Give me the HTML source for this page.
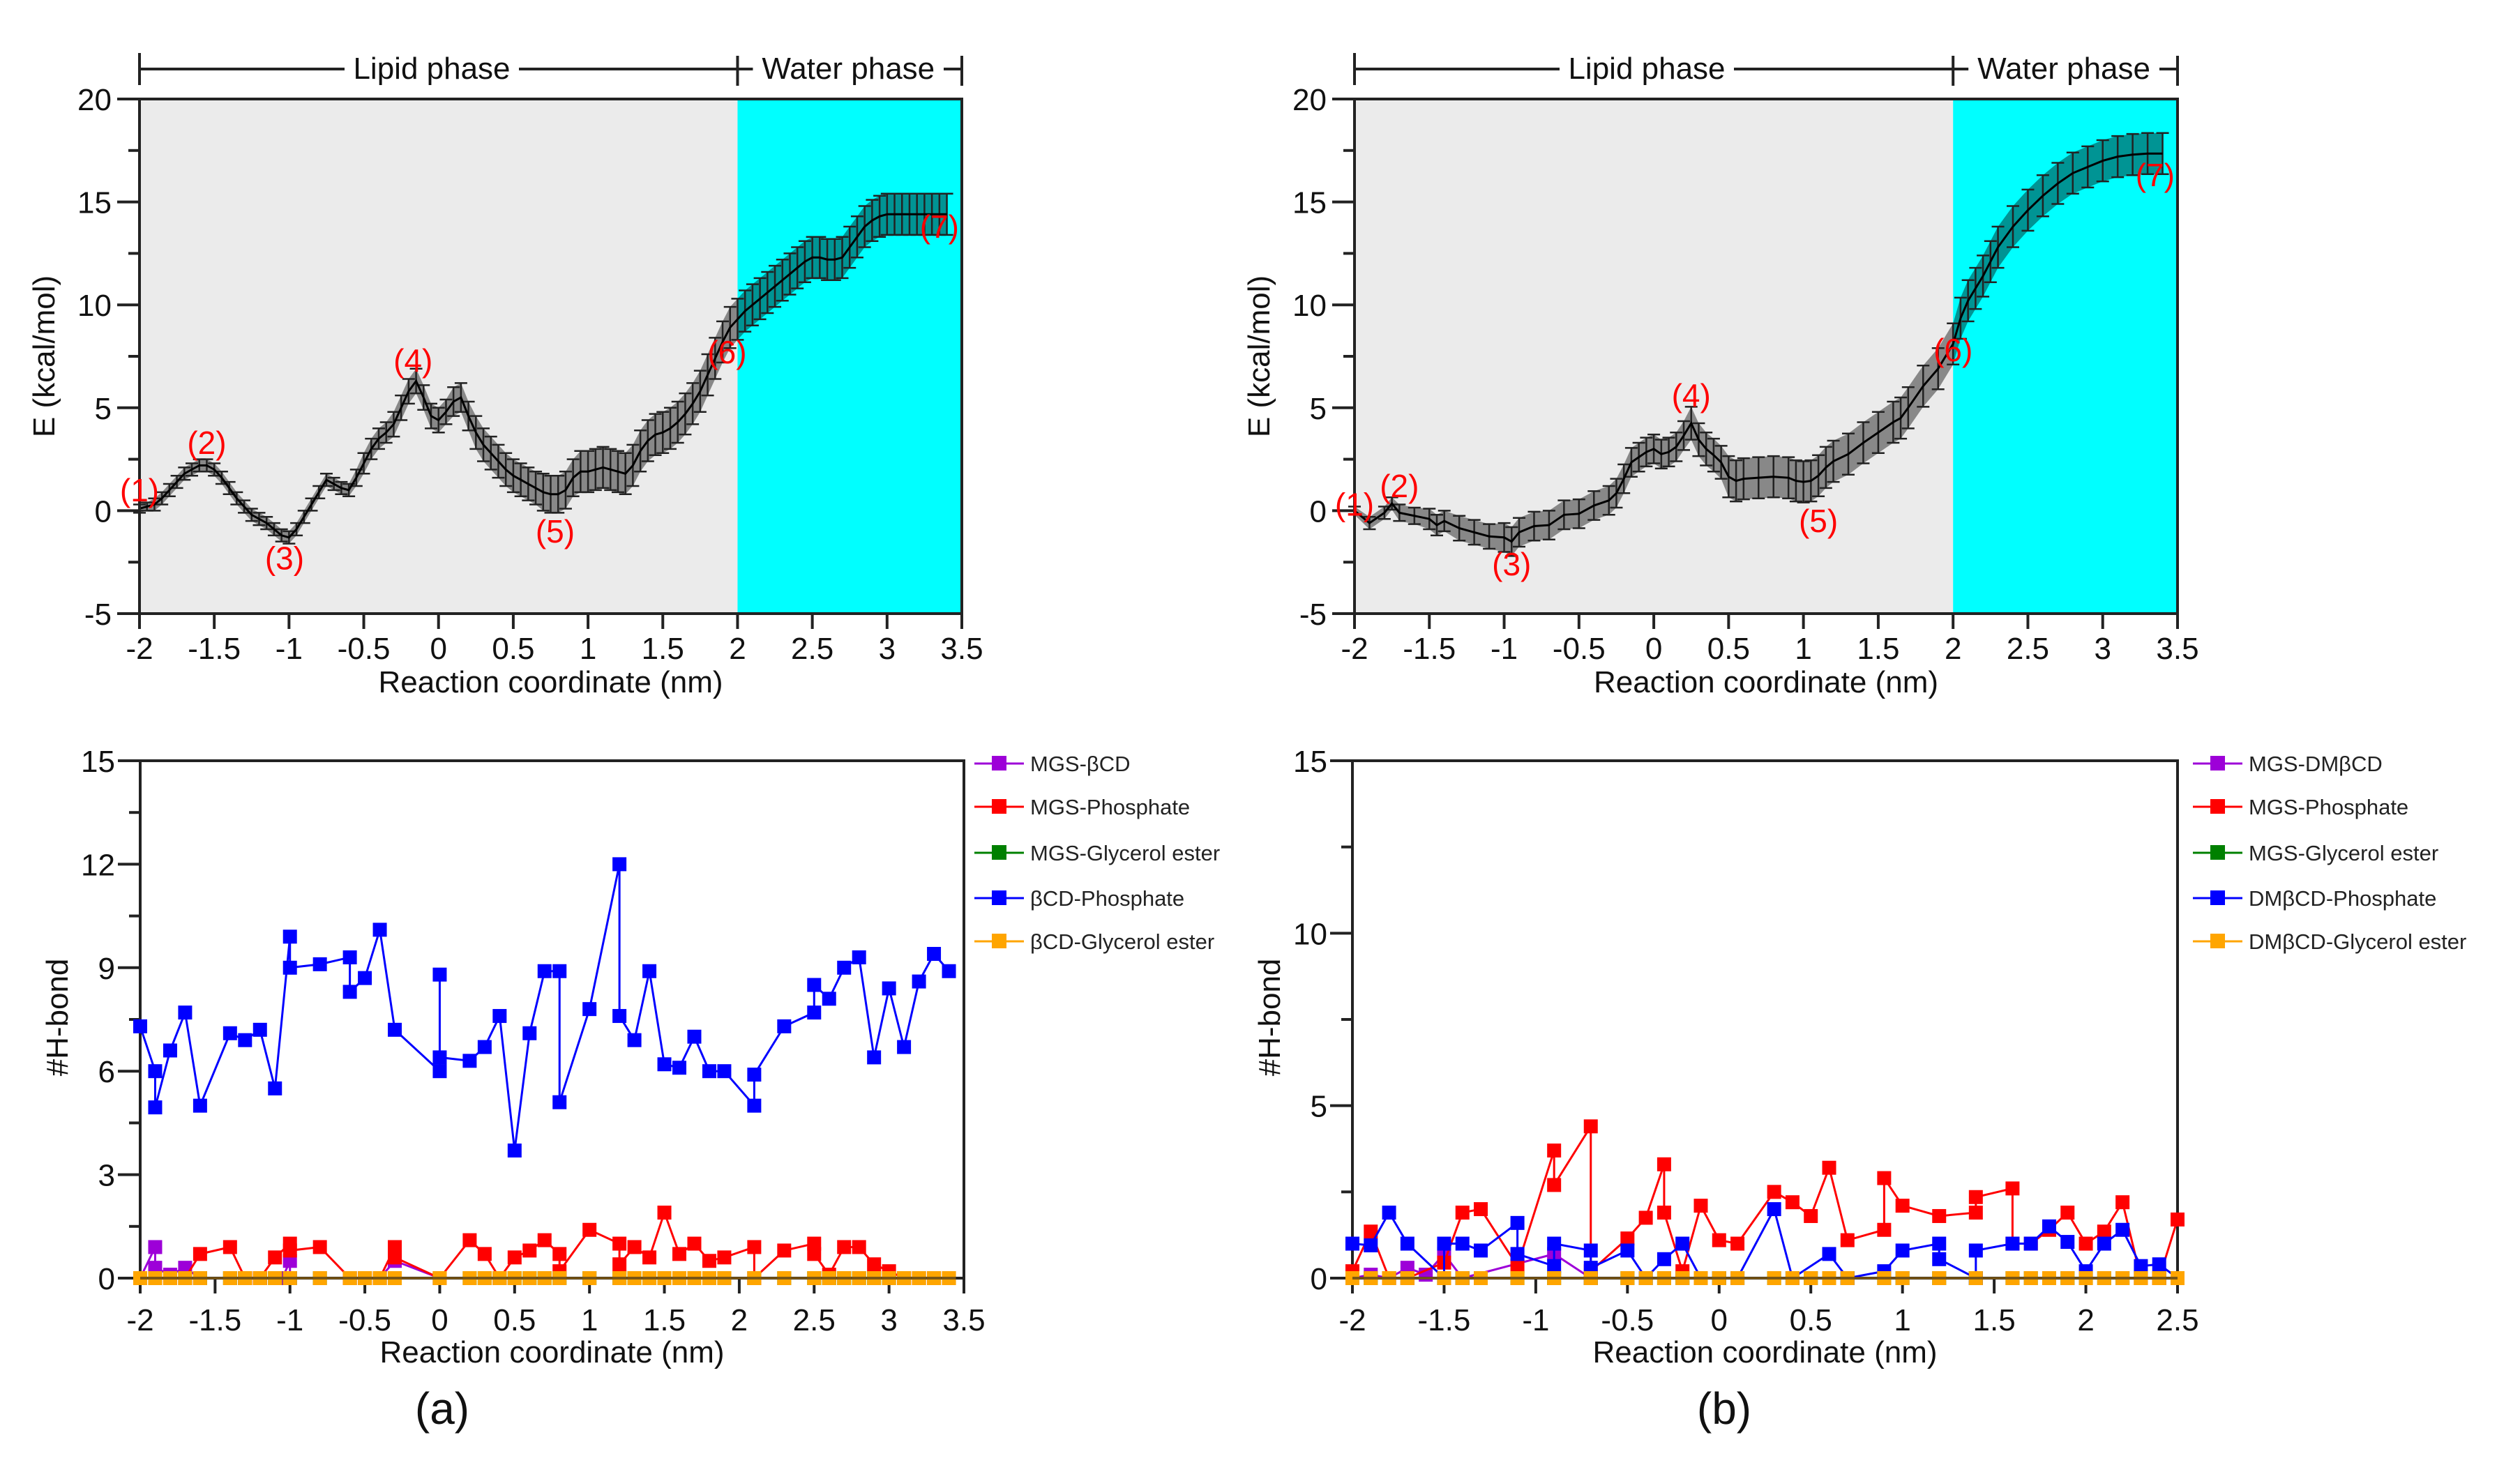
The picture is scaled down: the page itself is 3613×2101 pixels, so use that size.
<!DOCTYPE html>
<html><head><meta charset="utf-8"><style>
html,body{margin:0;padding:0;background:#fff;}
svg{display:block;font-family:"Liberation Sans",Arial,sans-serif;}
</style></head><body>
<svg id="fig" width="3613" height="2101" viewBox="0 0 3613 2101" xmlns="http://www.w3.org/2000/svg"></svg>
<script>
// ---------- Data: energy profile (a) ----------
const eA_x = [-2,-1.95,-1.9,-1.85,-1.8,-1.75,-1.7,-1.65,-1.6,-1.55,-1.5,-1.45,-1.4,-1.35,-1.3,-1.25,-1.2,-1.15,-1.1,-1.05,-1,-0.95,-0.9,-0.85,-0.8,-0.75,-0.7,-0.65,-0.6,-0.55,-0.5,-0.45,-0.4,-0.35,-0.3,-0.25,-0.2,-0.15,-0.1,-0.05,0,0.05,0.1,0.15,0.2,0.25,0.3,0.35,0.4,0.45,0.5,0.55,0.6,0.65,0.7,0.75,0.8,0.85,0.9,0.95,1,1.05,1.1,1.15,1.2,1.25,1.3,1.35,1.4,1.45,1.5,1.55,1.6,1.65,1.7,1.75,1.8,1.85,1.9,1.95,2,2.05,2.1,2.15,2.2,2.25,2.3,2.35,2.4,2.45,2.5,2.55,2.6,2.65,2.7,2.75,2.8,2.85,2.9,2.95,3,3.05,3.1,3.15,3.2,3.25,3.3,3.35,3.4];
const eA_y = [0.1,0.2,0.3,0.6,1.0,1.4,1.8,2.0,2.2,2.2,2.0,1.6,1.1,0.6,0.2,-0.2,-0.4,-0.6,-0.9,-1.2,-1.3,-0.9,-0.3,0.3,0.9,1.5,1.3,1.1,1.0,1.6,2.3,3.0,3.5,3.8,4.2,5.0,5.8,6.3,5.5,4.6,4.4,4.8,5.3,5.5,4.6,3.8,3.2,2.8,2.4,2.0,1.7,1.5,1.3,1.1,0.9,0.8,0.8,1.0,1.6,1.9,1.9,2.0,2.1,2.0,1.9,1.8,2.2,2.9,3.4,3.7,3.8,4.0,4.3,4.7,5.2,5.8,6.6,7.4,8.2,8.9,9.3,9.7,10.0,10.3,10.6,10.9,11.2,11.5,11.8,12.1,12.3,12.3,12.2,12.2,12.3,12.8,13.3,13.8,14.1,14.3,14.4,14.4,14.4,14.4,14.4,14.4,14.4,14.4,14.4];
const eA_err = [0.2,0.2,0.3,0.3,0.3,0.3,0.3,0.3,0.3,0.3,0.3,0.3,0.3,0.3,0.3,0.3,0.3,0.3,0.3,0.3,0.3,0.3,0.3,0.3,0.3,0.3,0.3,0.3,0.3,0.4,0.5,0.5,0.5,0.5,0.6,0.6,0.6,0.6,0.6,0.6,0.6,0.6,0.7,0.7,0.7,0.8,0.8,0.8,0.8,0.8,0.8,0.8,0.8,0.8,0.9,0.9,0.9,0.9,0.9,1.0,1.0,1.0,1.0,1.0,1.0,1.0,1.0,1.0,1.0,1.0,1.0,1.0,1.0,1.0,1.0,1.0,1.0,1.0,1.0,1.0,1.0,1.0,1.0,1.0,1.0,1.0,1.0,1.0,1.0,1.0,1.0,1.0,1.0,1.0,1.0,1.0,1.0,1.0,1.0,1.0,1.0,1.0,1.0,1.0,1.0,1.0,1.0,1.0,1.0];
// ---------- Data: energy profile (b) ----------
const eB_x = [-2,-1.9,-1.8,-1.75,-1.7,-1.6,-1.5,-1.45,-1.4,-1.3,-1.2,-1.1,-1,-0.95,-0.9,-0.8,-0.7,-0.6,-0.5,-0.4,-0.3,-0.25,-0.2,-0.15,-0.1,-0.05,0,0.05,0.1,0.15,0.2,0.25,0.3,0.35,0.4,0.45,0.5,0.55,0.6,0.7,0.8,0.9,0.95,1,1.05,1.1,1.15,1.2,1.3,1.4,1.5,1.6,1.65,1.7,1.8,1.9,2,2.05,2.1,2.15,2.2,2.25,2.3,2.4,2.5,2.6,2.7,2.8,2.9,3,3.1,3.2,3.3,3.4];
const eB_y = [0,-0.6,-0.1,0.35,-0.1,-0.25,-0.4,-0.7,-0.5,-0.85,-1.05,-1.25,-1.3,-1.5,-1.05,-0.75,-0.7,-0.2,-0.15,0.25,0.5,0.85,1.55,2.35,2.6,2.85,3.0,2.75,2.85,3.1,3.65,4.25,3.45,3.0,2.7,2.35,1.65,1.45,1.55,1.6,1.65,1.6,1.45,1.4,1.45,1.7,2.1,2.4,2.75,3.3,3.8,4.3,4.5,5.0,6.05,6.9,8.1,9.35,10.2,10.8,11.4,12.1,12.8,13.8,14.6,15.3,15.9,16.4,16.7,17.0,17.2,17.3,17.35,17.35];
const eB_err = [0.2,0.3,0.3,0.3,0.4,0.4,0.5,0.5,0.5,0.6,0.6,0.6,0.7,0.7,0.7,0.7,0.7,0.7,0.7,0.7,0.7,0.7,0.7,0.7,0.7,0.7,0.7,0.7,0.7,0.7,0.7,0.8,0.8,0.8,0.8,0.8,1.0,1.0,1.0,1.0,1.0,1.0,1.0,1.0,1.0,1.0,1.0,1.0,1.0,1.0,1.0,1.0,1.0,1.0,1.0,1.0,1.0,1.0,1.0,1.0,1.0,1.0,1.0,1.0,1.0,1.0,1.0,1.0,1.0,1.0,1.0,1.0,1.0,1.0];
const eXTicks = [-2,-1.5,-1,-0.5,0,0.5,1,1.5,2,2.5,3,3.5];
const eXTickLabels = ["-2","-1.5","-1","-0.5","0","0.5","1","1.5","2","2.5","3","3.5"];
const eYTicks = [-5,0,5,10,15,20];
const eYTickLabels = ["-5","0","5","10","15","20"];
const eYMinor = [-2.5,2.5,7.5,12.5,17.5];
const ptLabels = ["(1)","(2)","(3)","(4)","(5)","(6)","(7)"];
const ptA_x = [-2.0,-1.55,-1.03,-0.17,0.78,1.93,3.35];
const ptA_y = [1.0,3.3,-2.3,7.3,-1.0,7.7,13.8];
const ptB_x = [-2.0,-1.7,-0.95,0.25,1.1,2.0,3.35];
const ptB_y = [0.3,1.2,-2.6,5.6,-0.5,7.8,16.3];

// ---------- Data: H-bond (a) ----------
const hA_blue_x = [-2,-1.9,-1.9,-1.8,-1.7,-1.6,-1.4,-1.3,-1.2,-1.1,-1,-1,-0.8,-0.6,-0.6,-0.5,-0.4,-0.3,0,0,0,0.2,0.3,0.4,0.5,0.6,0.7,0.8,0.8,1,1.2,1.2,1.3,1.4,1.5,1.6,1.7,1.8,1.9,2.1,2.1,2.3,2.5,2.5,2.6,2.7,2.8,2.9,3,3.1,3.2,3.3,3.4];
const hA_blue_y = [7.3,6.0,4.95,6.6,7.7,5.0,7.1,6.9,7.2,5.5,9.9,9.0,9.1,9.3,8.3,8.7,10.1,7.2,6.0,8.8,6.4,6.3,6.7,7.6,3.7,7.1,8.9,8.9,5.1,7.8,12.0,7.6,6.9,8.9,6.2,6.1,7.0,6.0,6.0,5.0,5.9,7.3,7.7,8.5,8.1,9.0,9.3,6.4,8.4,6.7,8.6,9.4,8.9];
const hA_red_x = [-2,-1.9,-1.8,-1.7,-1.6,-1.4,-1.3,-1.2,-1.1,-1,-1,-0.8,-0.6,-0.5,-0.4,-0.3,-0.3,0,0.2,0.3,0.4,0.5,0.6,0.7,0.8,0.8,1,1.2,1.2,1.3,1.4,1.5,1.6,1.7,1.8,1.9,2.1,2.1,2.3,2.5,2.5,2.6,2.7,2.8,2.9,3,3.1,3.2,3.3,3.4];
const hA_red_y = [0,0,0,0,0.7,0.9,0,0,0.6,1.0,0.8,0.9,0,0,0,0.9,0.6,0,1.1,0.7,0,0.6,0.8,1.1,0.7,0.2,1.4,1.0,0.4,0.9,0.6,1.9,0.7,1.0,0.5,0.6,0.9,0,0.8,1.0,0.7,0.1,0.9,0.9,0.4,0.2,0,0,0,0];
const hA_purple_x = [-2,-1.9,-1.9,-1.8,-1.7,-1.6,-1.05,-1,-1,-0.4,-0.3,0];
const hA_purple_y = [0,0.9,0.3,0.1,0.3,0,0,0.5,0,0,0.5,0];
const hA_zero_x = [-2,-1.9,-1.8,-1.7,-1.6,-1.4,-1.3,-1.2,-1.1,-1,-0.8,-0.6,-0.5,-0.4,-0.3,0,0.2,0.3,0.4,0.5,0.6,0.7,0.8,1,1.2,1.3,1.4,1.5,1.6,1.7,1.8,1.9,2.1,2.3,2.5,2.6,2.7,2.8,2.9,3,3.1,3.2,3.3,3.4];
const hA_yTicks = [0,3,6,9,12,15];
const hA_yMinor = [1.5,4.5,7.5,10.5,13.5];
const hA_legend = ["MGS-\u03b2CD","MGS-Phosphate","MGS-Glycerol ester","\u03b2CD-Phosphate","\u03b2CD-Glycerol ester"];

// ---------- Data: H-bond (b) ----------
const hB_red_x = [-2,-1.9,-1.8,-1.7,-1.5,-1.4,-1.3,-1.1,-0.9,-0.9,-0.7,-0.7,-0.5,-0.4,-0.3,-0.3,-0.2,-0.1,0,0.1,0.3,0.4,0.5,0.6,0.7,0.9,0.9,1,1.2,1.4,1.4,1.6,1.6,1.7,1.8,1.9,2,2.1,2.2,2.3,2.4,2.5];
const hB_red_y = [0.2,1.35,0,0,0.45,1.9,2.0,0.35,3.7,2.7,4.4,0.2,1.15,1.75,3.3,1.9,0.2,2.1,1.1,1.0,2.5,2.2,1.8,3.2,1.1,1.4,2.9,2.1,1.8,1.9,2.35,2.6,1.0,1.0,1.4,1.9,1.0,1.35,2.2,0,0,1.7];
const hB_blue_x = [-2,-1.9,-1.8,-1.7,-1.5,-1.5,-1.4,-1.3,-1.1,-1.1,-0.9,-0.9,-0.7,-0.7,-0.5,-0.4,-0.3,-0.2,-0.1,0.1,0.3,0.4,0.6,0.7,0.9,1,1.2,1.2,1.4,1.4,1.6,1.7,1.8,1.9,2,2.1,2.2,2.3,2.4,2.5];
const hB_blue_y = [1.0,0.95,1.9,1.0,0,1.0,1.0,0.8,1.6,0.7,0.35,1.0,0.8,0.3,0.8,0,0.55,1.0,0,0,2.0,0,0.7,0,0.2,0.8,1.0,0.55,0,0.8,1.0,1.0,1.5,1.05,0.2,1.0,1.4,0.35,0.4,0];
const hB_purple_x = [-2,-1.9,-1.8,-1.7,-1.6,-1.5,-1.4,-0.9,-0.7,0];
const hB_purple_y = [0,0.1,0,0.3,0.1,0.7,0,0.7,0,0];
const hB_zero_x = [-2,-1.9,-1.8,-1.7,-1.5,-1.4,-1.3,-1.1,-0.9,-0.7,-0.5,-0.4,-0.3,-0.2,-0.1,0,0.1,0.3,0.4,0.5,0.6,0.7,0.9,1,1.2,1.4,1.6,1.7,1.8,1.9,2,2.1,2.2,2.3,2.4,2.5];
const hB_yTicks = [0,5,10,15];
const hB_yMinor = [2.5,7.5,12.5];
const hB_legend = ["MGS-DM\u03b2CD","MGS-Phosphate","MGS-Glycerol ester","DM\u03b2CD-Phosphate","DM\u03b2CD-Glycerol ester"];

const hXTicksA = [-2,-1.5,-1,-0.5,0,0.5,1,1.5,2,2.5,3,3.5];
const hXTicksB = [-2,-1.5,-1,-0.5,0,0.5,1,1.5,2,2.5];

const NS = "http://www.w3.org/2000/svg";
const svg = document.getElementById('fig');
function mk(tag, attrs, parent){
  const e = document.createElementNS(NS, tag);
  for (const k in attrs) e.setAttribute(k, attrs[k]);
  (parent||svg).appendChild(e);
  return e;
}
function txt(s, x, y, size, anchor, fill, parent){
  const t = mk('text', {x:x, y:y, 'font-size':size, 'text-anchor':anchor||'middle', fill:fill||'#111'}, parent);
  t.textContent = s;
  return t;
}
function scale(d0,d1,r0,r1){ return v => r0 + (v-d0)/(d1-d0)*(r1-r0); }

// ================= ENERGY PANELS =================
function energyPanel(L, R, xs, ys, es, px, py, name){
  const T=142, B=880;
  const g = mk('g', {});
  
  
  const X = scale(-2,3.5,L,R), Y = scale(-5,20,B,T);
  const gr = mk('rect', {x:L, y:T, width:X(2)-L, height:B-T, fill:'#ebebeb'}, g);
  
  
  const cy = mk('rect', {x:X(2), y:T, width:R-X(2), height:B-T, fill:'#00ffff'}, g);
  
  
  let up = xs.map((x,i)=>X(x)+','+Y(ys[i]+es[i]));
  let dn = xs.map((x,i)=>X(x)+','+Y(ys[i]-es[i])).reverse();
  const band = mk('polygon', {points: up.concat(dn).join(' '), fill:'#000', 'fill-opacity':0.42}, g);
  
  
  xs.forEach((x,i)=>{
    const xx = X(x), y1 = Y(ys[i]+es[i]), y2 = Y(ys[i]-es[i]);
    const eb = mk('path', {d:`M${xx},${y1}V${y2}M${xx-9},${y1}H${xx+9}M${xx-9},${y2}H${xx+9}`, stroke:'#222', 'stroke-width':2.5, fill:'none'}, g);
    
    
  });
  const ln = mk('polyline', {points: xs.map((x,i)=>X(x)+','+Y(ys[i])).join(' '), fill:'none', stroke:'#000', 'stroke-width':3}, g);
  
  
  const fr = mk('rect', {x:L, y:T, width:R-L, height:B-T, fill:'none', stroke:'#222', 'stroke-width':4}, g);
  
  
  eXTicks.forEach((v,i)=>{
    const tk = mk('line', {x1:X(v), x2:X(v), y1:B, y2:B+22, stroke:'#222', 'stroke-width':4}, g);
    
    
    const tl = txt(eXTickLabels[i], X(v), 945, 44, 'middle', '#111', g);
    
    
  });
  eYTicks.forEach((v,i)=>{
    const tk = mk('line', {x1:L-32, x2:L, y1:Y(v), y2:Y(v), stroke:'#222', 'stroke-width':4}, g);
    
    
    const tl = txt(eYTickLabels[i], L-40, Y(v)+16, 44, 'end', '#111', g);
    
    
  });
  eYMinor.forEach(v=>{
    const tk = mk('line', {x1:L-16, x2:L, y1:Y(v), y2:Y(v), stroke:'#222', 'stroke-width':4}, g);
    
    
  });
  const xt = txt('Reaction coordinate (nm)', (L+R)/2, 993, 44, 'middle', '#111', g);
  
  
  const yt = txt('E (kcal/mol)', 0, 0, 44, 'middle', '#111', g);
  yt.setAttribute('transform', `translate(${L-122},${(T+B)/2}) rotate(-90)`);
  
  
  const lc = L + 419, hw = 125;
  const bx = mk('path', {d:`M${L},76V122M${L},99H${lc-hw}M${lc+hw},99H${X(2)}M${X(2)},80V123M${X(2)},99H${X(2)+22}M${R-26},99H${R}M${R},80V123`, stroke:'#222', 'stroke-width':4, fill:'none'}, g);
  
  
  const lp = txt('Lipid phase', lc, 113, 44, 'middle', '#111', g);
  
  
  const wp = txt('Water phase', (X(2)+22+R-26)/2, 113, 44, 'middle', '#111', g);
  
  
  ptLabels.forEach((s,i)=>{
    const pl = txt(s, X(px[i]), Y(py[i])+16, 46, 'middle', '#ff0000', g);
    
    
  });
}
energyPanel(200, 1379, eA_x, eA_y, eA_err, ptA_x, ptA_y, 'energy-panel-a');
energyPanel(1942, 3122, eB_x, eB_y, eB_err, ptB_x, ptB_y, 'energy-panel-b');

// ================= H-BOND PANELS =================
function hbondPanel(L, R, xmax, xTicks, yTicks, yMinor, series, legend, lx, name, letter, letterX){
  const T=1091, B=1833;
  const g = mk('g', {});
  
  
  const X = scale(-2,xmax,L,R), Y = scale(0,15,B,T);
  const fr = mk('rect', {x:L, y:T, width:R-L, height:B-T, fill:'#fff', stroke:'#222', 'stroke-width':4}, g);
  
  
  xTicks.forEach(v=>{
    const tk = mk('line', {x1:X(v), x2:X(v), y1:B, y2:B+22, stroke:'#222', 'stroke-width':4}, g);
    
    
    const tl = txt(String(v), X(v), 1908, 44, 'middle', '#111', g);
    
    
  });
  yTicks.forEach(v=>{
    const tk = mk('line', {x1:L-32, x2:L, y1:Y(v), y2:Y(v), stroke:'#222', 'stroke-width':4}, g);
    
    
    const tl = txt(String(v), L-36, Y(v)+16, 44, 'end', '#111', g);
    
    
  });
  yMinor.forEach(v=>{
    const tk = mk('line', {x1:L-16, x2:L, y1:Y(v), y2:Y(v), stroke:'#222', 'stroke-width':4}, g);
    
    
  });
  series.forEach(s=>{
    const ln = mk('polyline', {points: s.x.map((x,i)=>X(x)+','+Y(s.y[i])).join(' '), fill:'none', stroke:s.c, 'stroke-width':3}, g);
    
    
    s.x.forEach((x,i)=>{
      const m = mk('rect', {x:X(x)-10, y:Y(s.y[i])-10, width:20, height:20, fill:s.c}, g);
      
      
    });
  });
  const bl = mk('line', {x1:L, x2:R, y1:B, y2:B, stroke:'#222', 'stroke-width':4, 'stroke-opacity':0.6}, g);
  
  
  const xt = txt('Reaction coordinate (nm)', (L+R)/2, 1954, 44, 'middle', '#111', g);
  
  
  const yt = txt('#H-bond', 0, 0, 44, 'middle', '#111', g);
  yt.setAttribute('transform', `translate(${L-104},${1459}) rotate(-90)`);
  
  
  const cols = ['#9d00d8','#ff0000','#008000','#0000ff','#ffa500'];
  const rows = [1095,1157,1223,1288,1350];
  legend.forEach((s,i)=>{
    const le = mk('g', {}, g);
    
    
    mk('line', {x1:lx, x2:lx+71, y1:rows[i], y2:rows[i], stroke:cols[i], 'stroke-width':3}, le);
    mk('rect', {x:lx+25, y:rows[i]-11, width:21, height:21, fill:cols[i]}, le);
    txt(s, lx+80, rows[i]+11, 31, 'start', '#222', le);
  });
  const lt = txt(letter, letterX, 2042, 64, 'middle', '#111', g);
  
  
}
hbondPanel(201, 1382, 3.5, hXTicksA, hA_yTicks, hA_yMinor, [
  {n:'mgs-cd', x:hA_purple_x, y:hA_purple_y, c:'#9d00d8'},
  {n:'mgs-glycerol', x:hA_zero_x, y:hA_zero_x.map(()=>0), c:'#008000'},
  {n:'mgs-phosphate', x:hA_red_x, y:hA_red_y, c:'#ff0000'},
  {n:'cd-phosphate', x:hA_blue_x, y:hA_blue_y, c:'#0000ff'},
  {n:'cd-glycerol', x:hA_zero_x, y:hA_zero_x.map(()=>0), c:'#ffa500'}
], hA_legend, 1397, 'hbond-panel-a', '(a)', 634);
hbondPanel(1939, 3122, 2.5, hXTicksB, hB_yTicks, hB_yMinor, [
  {n:'mgs-dmcd', x:hB_purple_x, y:hB_purple_y, c:'#9d00d8'},
  {n:'mgs-glycerol', x:hB_zero_x, y:hB_zero_x.map(()=>0), c:'#008000'},
  {n:'mgs-phosphate', x:hB_red_x, y:hB_red_y, c:'#ff0000'},
  {n:'dmcd-phosphate', x:hB_blue_x, y:hB_blue_y, c:'#0000ff'},
  {n:'dmcd-glycerol', x:hB_zero_x, y:hB_zero_x.map(()=>0), c:'#ffa500'}
], hB_legend, 3144, 'hbond-panel-b', '(b)', 2472);
</script>
</body></html>
